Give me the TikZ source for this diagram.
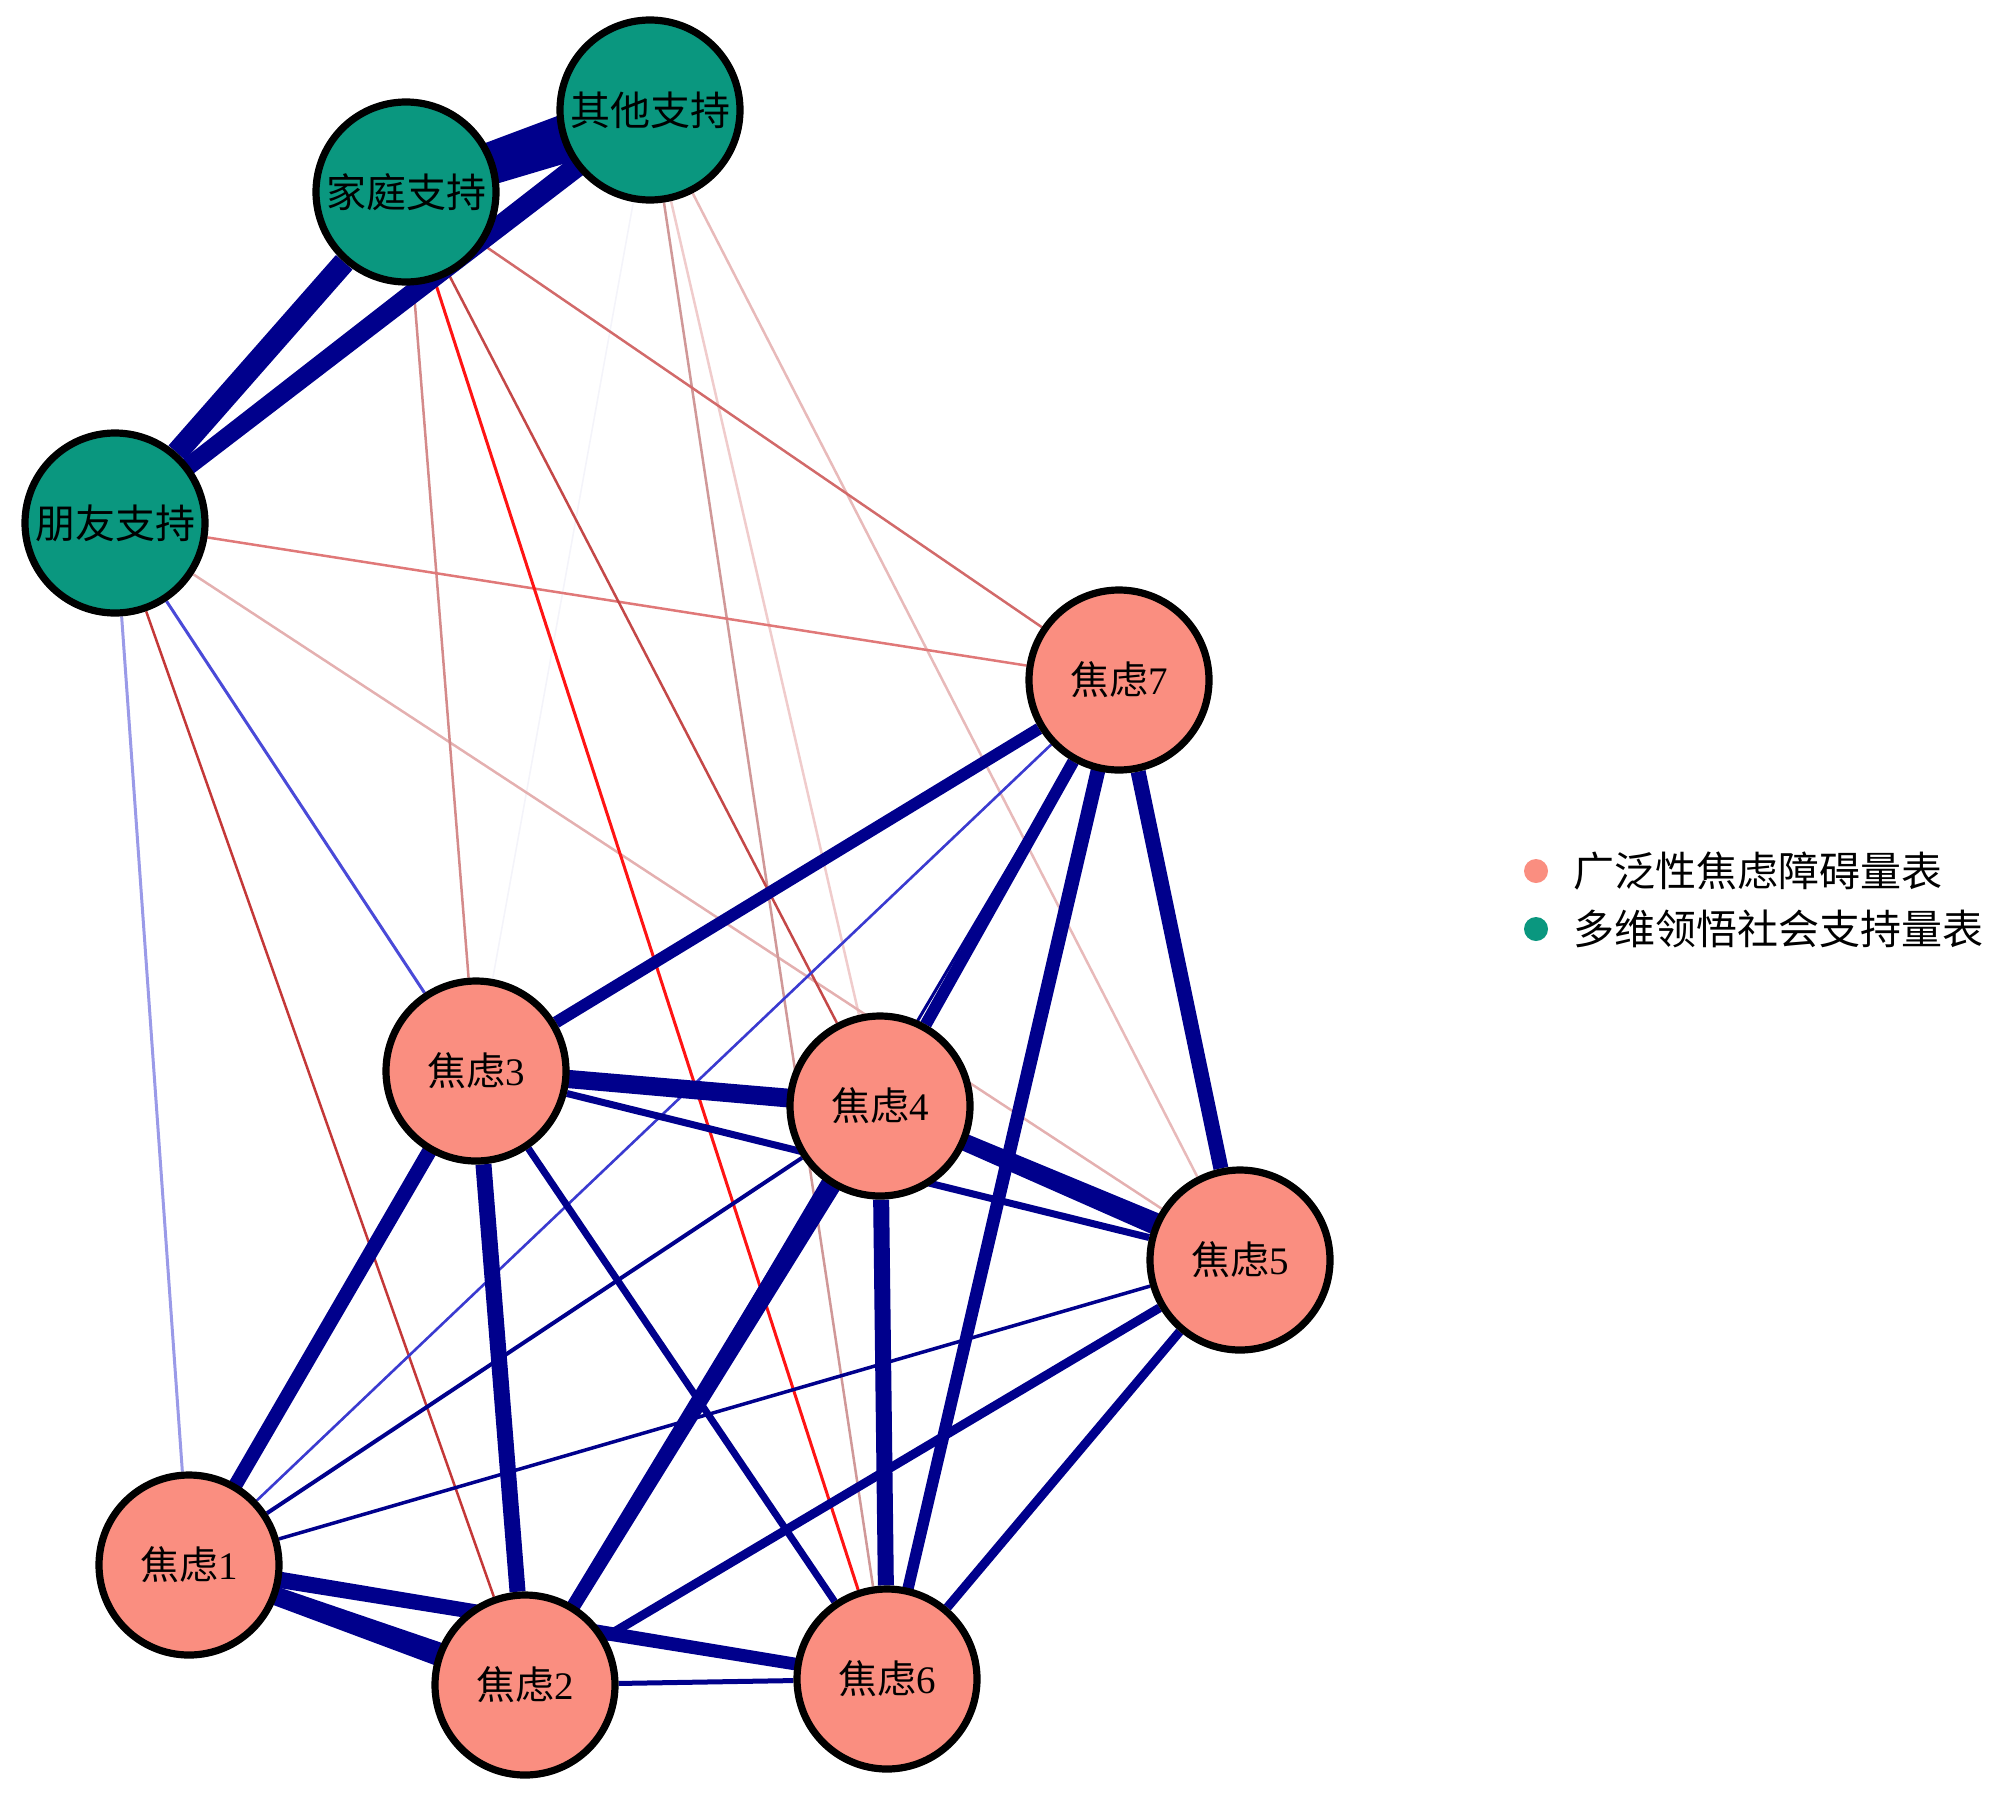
\documentclass[tikz,border=0pt]{standalone}
\usepackage{fontspec}
\setmainfont{Liberation Serif}
\newfontfamily\cjk{Noto Sans CJK SC}
\usetikzlibrary{calc}
\pgfdeclarelayer{edges}
\pgfsetlayers{edges,main}
\definecolor{nb}{RGB}{0,0,140}
\definecolor{pk}{RGB}{250,142,128}
\definecolor{gr}{RGB}{10,151,127}
\definecolor{faintb}{RGB}{244,244,250}
\definecolor{rA}{RGB}{255,20,20}
\definecolor{rB}{RGB}{196,72,72}
\definecolor{rC}{RGB}{212,138,138}
\definecolor{rD}{RGB}{210,106,106}
\definecolor{rE}{RGB}{224,120,120}
\definecolor{rF}{RGB}{196,56,56}
\definecolor{rG}{RGB}{228,176,176}
\definecolor{rH}{RGB}{208,152,152}
\definecolor{rI}{RGB}{240,204,204}
\definecolor{rJ}{RGB}{232,186,186}
\definecolor{bA}{RGB}{154,154,232}
\definecolor{bB}{RGB}{74,74,216}
\definecolor{bC}{RGB}{58,58,208}
\newcommand\taper[5]{\fill[#5] ($(#1)!#3!90:(#2)$) -- ($(#2)!#4!-90:(#1)$) -- ($(#2)!#4!90:(#1)$) -- ($(#1)!#3!-90:(#2)$) -- cycle;}
\begin{document}
\begin{tikzpicture}[x=0.5pt,y=-0.5pt,
  nd/.style={circle,draw=black,line width=3.6pt,minimum size=90pt,inner sep=0pt,text=black},
  anxnode/.style={nd,fill=pk,font=\fontsize{19.5pt}{21pt}\selectfont},
  supnode/.style={nd,fill=gr,font=\cjk\fontsize{20pt}{22pt}\selectfont},
  edge/.style={line cap=butt},
  legdot/.style={circle,minimum size=12pt,inner sep=0pt},
  legtext/.style={anchor=west,inner sep=0pt,font=\cjk\fontsize{20.5pt}{22pt}\selectfont,text=black}]
\useasboundingbox (0,0) rectangle (2000,1798);
% nodes
\node[supnode] (qt) at (650,110) {其他支持};
\node[supnode] (jt) at (406,192) {家庭支持};
\node[supnode] (py) at (115,523) {朋友支持};
\node[anxnode] (a7) at (1119,680) {{\cjk 焦虑}7};
\node[anxnode] (a3) at (476,1071) {{\cjk 焦虑}3};
\node[anxnode] (a4) at (880,1106) {{\cjk 焦虑}4};
\node[anxnode] (a5) at (1240,1260) {{\cjk 焦虑}5};
\node[anxnode] (a1) at (189,1565) {{\cjk 焦虑}1};
\node[anxnode] (a2) at (525,1685) {{\cjk 焦虑}2};
\node[anxnode] (a6) at (887,1679) {{\cjk 焦虑}6};
% edges
\begin{pgfonlayer}{edges}
\draw[edge,line width=0.8pt,faintb] (qt) -- (a3);
\draw[edge,line width=1.25pt,rI] (qt) -- (a4);
\draw[edge,line width=1.25pt,rJ] (qt) -- (a5);
\draw[edge,line width=1.25pt,rG] (py) -- (a5);
\draw[edge,line width=1.25pt,rH] (qt) -- (a6);
\draw[edge,line width=1.25pt,rC] (jt) -- (a3);
\draw[edge,line width=1.25pt,rD] (jt) -- (a7);
\draw[edge,line width=1.25pt,rE] (py) -- (a7);
\draw[edge,line width=1.25pt,rB] (jt) -- (a4);
\draw[edge,line width=1.25pt,rF] (py) -- (a2);
\draw[edge,line width=1.5pt,rA] (jt) -- (a6);
\draw[edge,line width=1.5pt,bA] (py) -- (a1);
\draw[edge,line width=1.5pt,bB] (py) -- (a3);
\draw[edge,line width=1.3pt,bC] (a1) -- (a7);
\draw[edge,line width=1.5pt,nb] (a2) -- (a7);
\draw[edge,line width=1.75pt,nb] (a1) -- (a5);
\draw[edge,line width=2pt,nb] (a1) -- (a4);
\draw[edge,line width=2.5pt,nb] (a2) -- (a6);
\draw[edge,line width=3.5pt,nb] (a3) -- (a5);
\draw[edge,line width=3.5pt,nb] (a3) -- (a6);
\draw[edge,line width=4.5pt,nb] (a5) -- (a6);
\draw[edge,line width=4.5pt,nb] (a2) -- (a5);
\draw[edge,line width=6pt,nb] (a7) -- (a3);
\draw[edge,line width=6pt,nb] (a7) -- (a4);
\taper{a7}{a6}{3.75pt}{2.75pt}{nb}
\taper{a1}{a3}{3.5pt}{3.75pt}{nb}
\taper{a1}{a6}{4.25pt}{3pt}{nb}
\draw[edge,line width=7.5pt,nb] (a7) -- (a5);
\draw[edge,line width=8pt,nb] (a4) -- (a6);
\draw[edge,line width=8pt,nb] (a2) -- (a3);
\taper{a2}{a4}{3.25pt}{5pt}{nb}
\taper{a3}{a4}{4.5pt}{4.75pt}{nb}
\taper{a4}{a5}{3.75pt}{6pt}{nb}
\taper{a1}{a2}{4pt}{6.5pt}{nb}
\taper{qt}{py}{5.5pt}{4.25pt}{nb}
\draw[edge,line width=11pt,nb] (jt) -- (py);
\taper{jt}{qt}{9pt}{13.5pt}{nb}
\end{pgfonlayer}
% legend
\node[legdot,fill=pk] (d1) at (1536,871) {};
\node[legdot,fill=gr] (d2) at (1536,929) {};
\node[legtext] (l1) at (1573,871) {广泛性焦虑障碍量表};
\node[legtext] (l2) at (1573,929) {多维领悟社会支持量表};
\end{tikzpicture}
\end{document}
